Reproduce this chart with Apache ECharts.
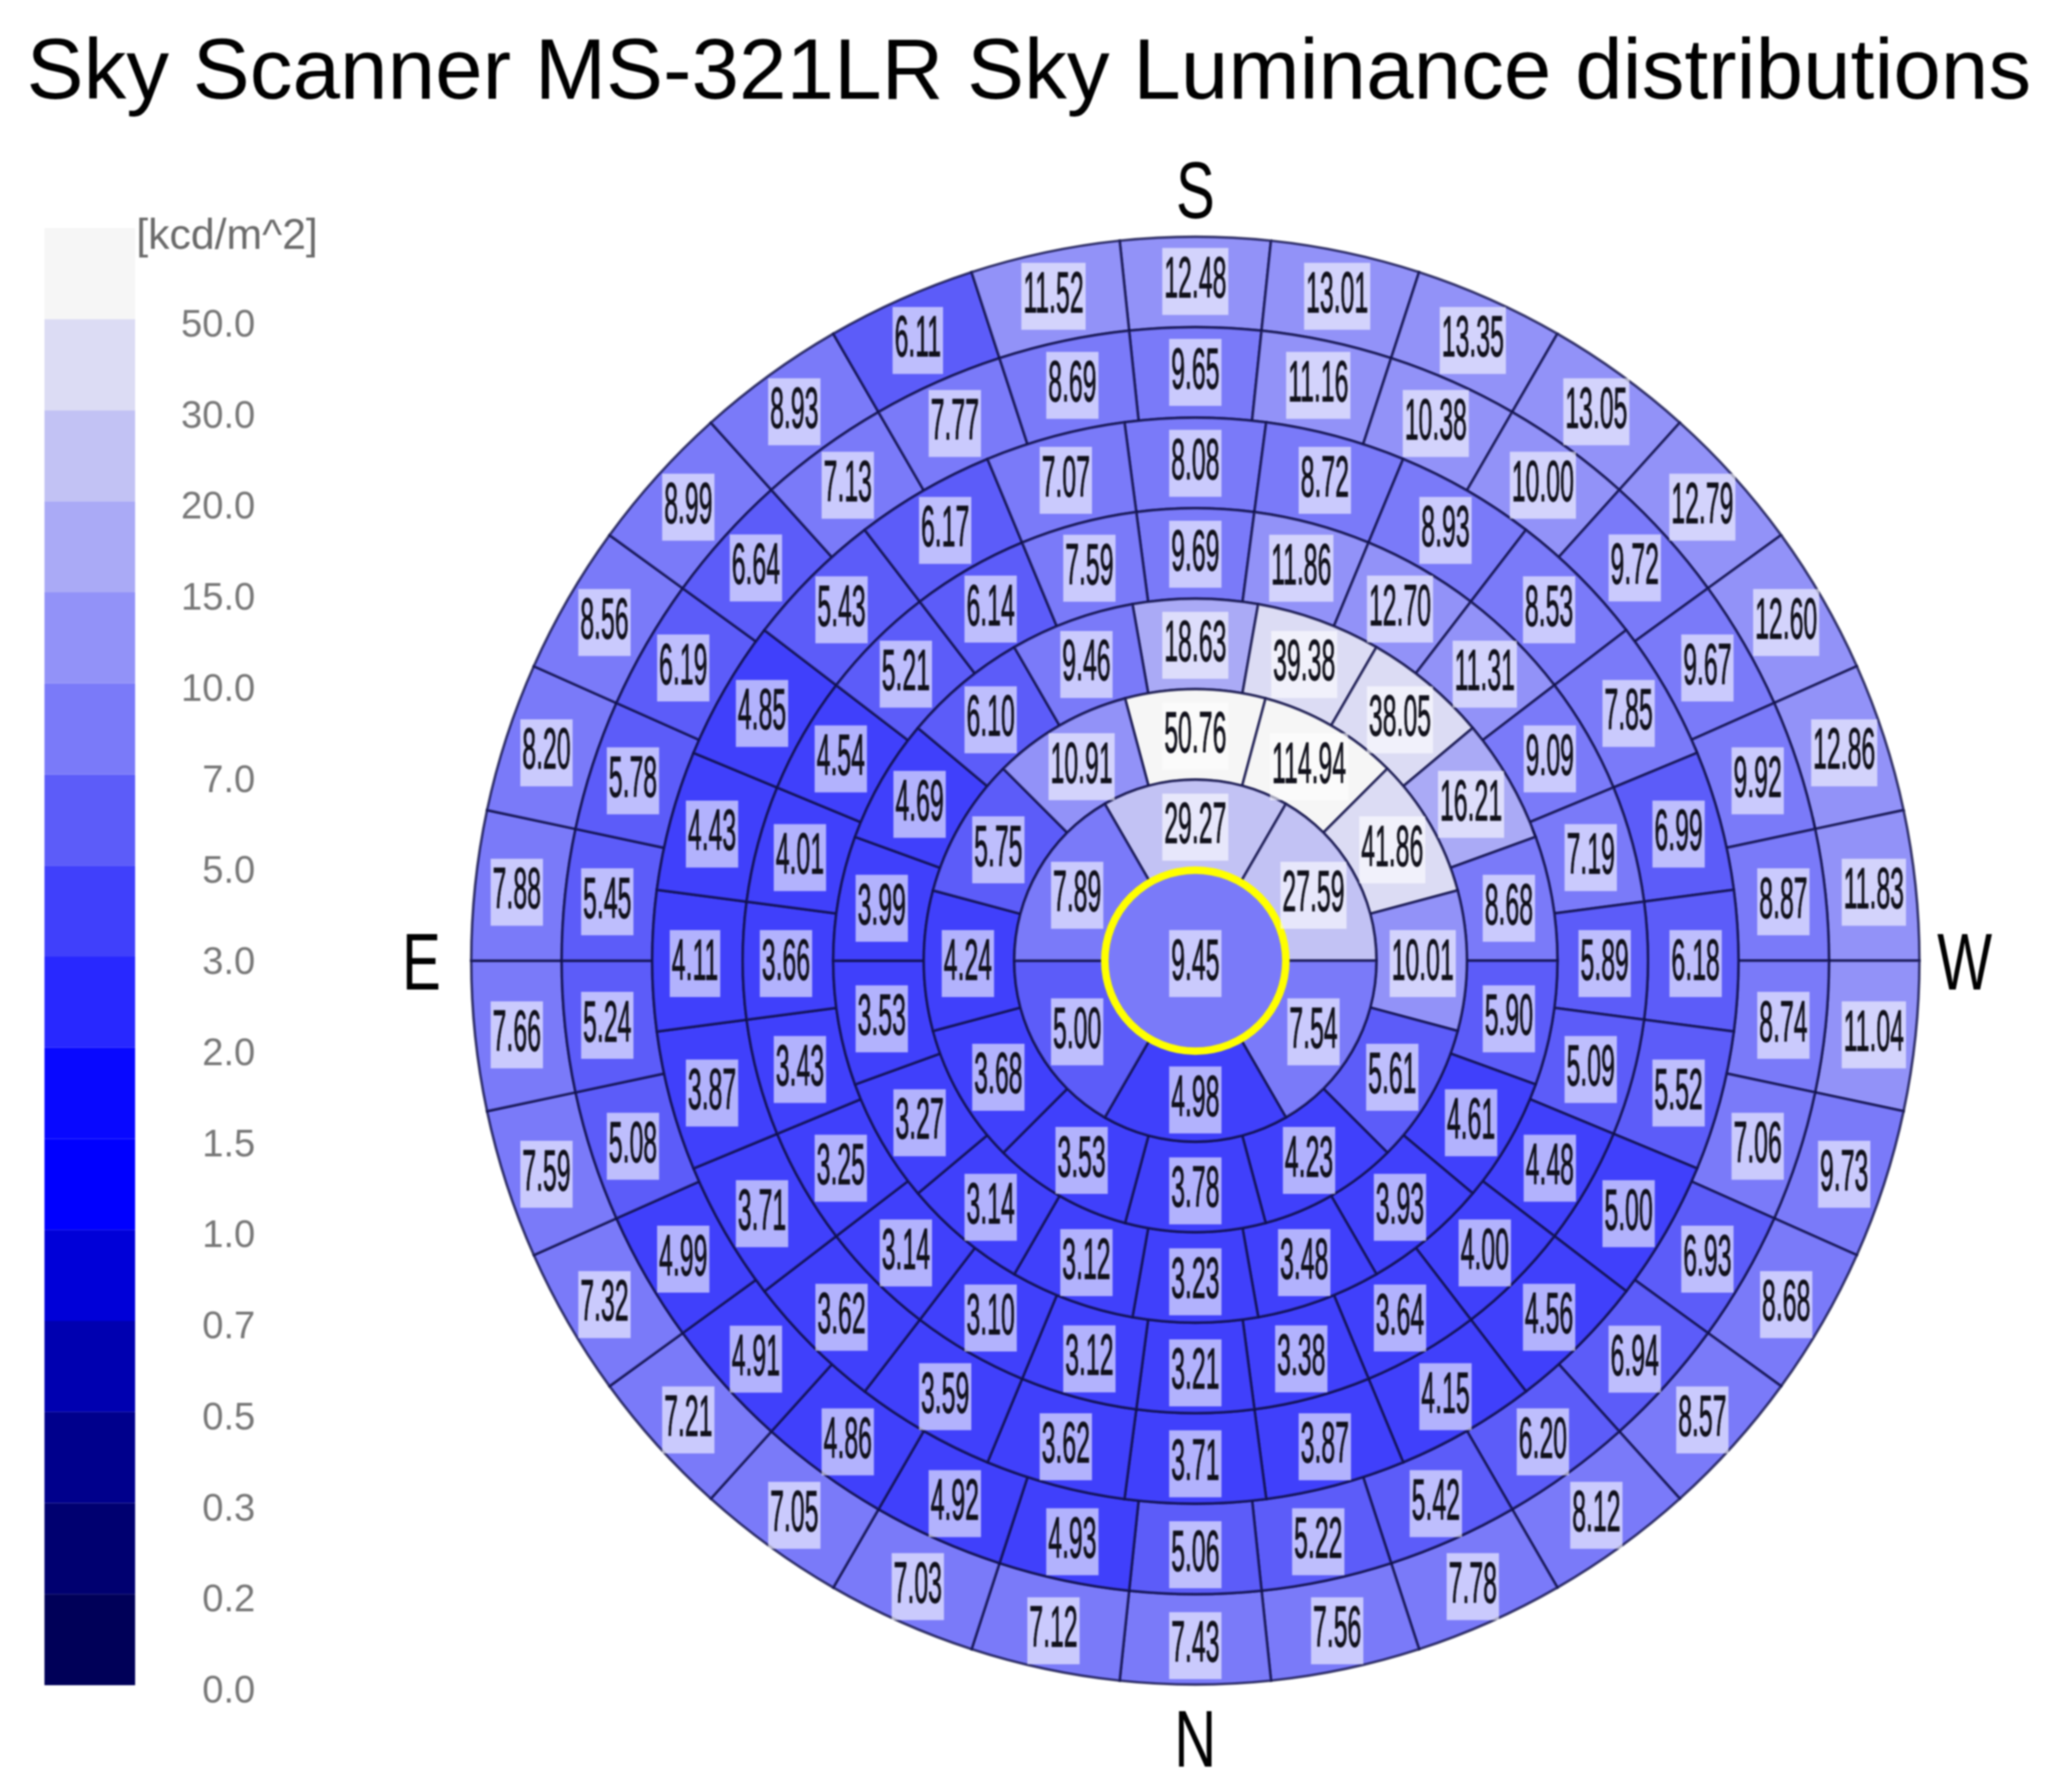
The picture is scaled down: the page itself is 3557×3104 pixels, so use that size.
<!DOCTYPE html>
<html><head><meta charset="utf-8">
<style>html,body{margin:0;padding:0;background:#fff}#c{width:3557px;height:3104px;filter:blur(1.6px)}</style>
<script src="https://cdn.jsdelivr.net/npm/echarts@6/dist/echarts.min.js"></script>
</head><body><div id="c"></div>
<script>
const chartTitle = 'Sky Scanner MS-321LR Sky Luminance distributions';
const unitLabel = '[kcd/m^2]';
const legendTicks = ['0.0','0.2','0.3','0.5','0.7','1.0','1.5','2.0','3.0','5.0','7.0','10.0','15.0','20.0','30.0','50.0',''];
const bandLimits = [0,0.2,0.3,0.5,0.7,1,1.5,2,3,5,7,10,15,20,30,50];
const bandColors = ['#000058','#000070','#00008c','#0000b0','#0000d8','#0000ff','#0808ff','#2828ff','#4040fb','#5c5cf9','#7a7af9','#9292f8','#aaaaf6','#c2c2f4','#dcdcf4','#f6f6f6'];
const compassLetters = ['S','W','N','E'];
const compassAngles = [0,90,180,270];
const compassRadii = [8.52,8.50,8.59,8.55];
// each ring lists its cells clockwise from the top (S)
const ring0 = [9.45];
const ring1 = [29.27,27.59,7.54,4.98,5.00,7.89];
const ring2 = [50.76,114.94,41.86,10.01,5.61,4.23,3.78,3.53,3.68,4.24,5.75,10.91];
const ring3 = [18.63,39.38,38.05,16.21,8.68,5.90,4.61,3.93,3.48,3.23,3.12,3.14,3.27,3.53,3.99,4.69,6.10,9.46];
const ring4 = [9.69,11.86,12.70,11.31,9.09,7.19,5.89,5.09,4.48,4.00,3.64,3.38,3.21,3.12,3.10,3.14,3.25,3.43,3.66,4.01,4.54,5.21,6.14,7.59];
const ring5 = [8.08,8.72,8.93,8.53,7.85,6.99,6.18,5.52,4.996,4.56,4.15,3.87,3.71,3.62,3.59,3.62,3.71,3.87,4.11,4.43,4.85,5.43,6.17,7.07];
const ring6 = [9.65,11.16,10.38,10.00,9.72,9.67,9.92,8.87,8.74,7.06,6.93,6.94,6.20,5.42,5.22,5.06,4.93,4.92,4.86,4.91,4.99,5.08,5.24,5.45,5.78,6.19,6.64,7.13,7.77,8.69];
const ring7 = [12.48,13.01,13.35,13.05,12.79,12.60,12.86,11.83,11.04,9.73,8.68,8.57,8.12,7.78,7.56,7.43,7.12,7.03,7.05,7.21,7.32,7.59,7.66,7.88,8.20,8.56,8.99,8.93,6.11,11.52];
const rings = [ring7,ring6,ring5,ring4,ring3,ring2,ring1,ring0];

function bandColor(v){let i=0;for(let k=0;k<bandLimits.length;k++){if(v>=bandLimits[k])i=k;}return bandColors[i];}

const cells = [];
rings.forEach((vals,idx)=>{
  const ringNo = rings.length-1-idx;
  vals.forEach((v,j)=>{ cells.push([ringNo, j*360/vals.length, v, vals.length]); });
});

function renderCell(params, api){
  const ring = api.value(0), ang = api.value(1), v = api.value(2), n = api.value(3);
  const c = api.coord([0,0]);
  const top = api.coord([1,0]);
  const unit = Math.hypot(top[0]-c[0], top[1]-c[1]);
  const half = 180/n;
  const children = [];
  const fill = bandColor(v);
  const midR = ring===0 ? 0 : (ring+0.5)*1.005;
  const m = api.coord([midR, ang]);
  const s = (ang-half-90)*Math.PI/180, e=(ang+half-90)*Math.PI/180;
  children.push({type:'sector',shape:{cx:c[0],cy:c[1],r0:ring*unit,r:(ring+1)*unit,startAngle:s,endAngle:e,clockwise:true},
    style:{fill:fill,stroke:ring===0?'#ffff00':'rgba(14,14,70,0.78)',lineWidth:ring===0?13:4.5}});
  children.push({type:'text',x:m[0],y:m[1]+5,scaleX:0.43,scaleY:1,z2:10,style:{
    text:v.toFixed(2),x:0,y:0,align:'center',verticalAlign:'middle',
    font:'100px "Liberation Sans"',lineHeight:100,fill:'#10101a',stroke:'#10101a',lineWidth:1.5,
    backgroundColor:'rgba(255,255,255,0.6)',padding:[14,8,2,8]}});
  return {type:'group',children};
}

function renderCompass(params, api){
  const p = api.coord([api.value(0), api.value(1)]);
  return {type:'text',x:p[0],y:p[1]+11,scaleX:0.72,style:{text:compassLetters[api.value(2)],x:0,y:0,align:'center',verticalAlign:'middle',
    font:'140px "Liberation Sans"',fill:'#000'}};
}

function renderSwatch(params, api){
  const i = api.value(0);
  const a = api.coord([0,i]), b = api.coord([1,i+1]);
  return {type:'rect',shape:{x:a[0],y:b[1],width:b[0]-a[0],height:a[1]-b[1]},style:{fill:bandColors[i]}};
}

const chart = echarts.init(document.getElementById('c'),null,{renderer:'canvas'});
chart.setOption({
  animation:false,
  backgroundColor:'#ffffff',
  title:{text:chartTitle,left:46,top:54,padding:0,textStyle:{fontFamily:'Liberation Sans',fontWeight:'normal',fontSize:148,color:'#000',lineHeight:152}},
  polar:{center:[2070,1664],radius:1254},
  radiusAxis:{type:'value',min:0,max:8,interval:1,axisLine:{show:false},axisTick:{show:false},axisLabel:{show:false},splitLine:{show:false}},
  angleAxis:{type:'value',min:0,max:360,interval:90,startAngle:90,clockwise:true,
    axisLine:{show:false},axisTick:{show:false},splitLine:{show:false},axisLabel:{show:false}},
  grid:{left:77,top:395,width:157,height:2524,containLabel:false},
  xAxis:{type:'value',min:0,max:1,show:false},
  yAxis:{type:'value',min:0,max:16,interval:1,position:'right',
    axisLine:{show:false},axisTick:{show:false},splitLine:{show:false},
    axisLabel:{show:true,align:'right',verticalAlign:'top',lineHeight:24,margin:208,showMinLabel:true,showMaxLabel:true,fontFamily:'Liberation Sans',fontSize:66,color:'#777777',formatter:(v)=>legendTicks[v]}},
  graphic:[{type:'text',left:236,top:374,style:{text:unitLabel,font:'74px "Liberation Sans"',fill:'#6a6a6a'}}],
  series:[
    {type:'custom',coordinateSystem:'cartesian2d',xAxisIndex:0,yAxisIndex:0,silent:true,renderItem:renderSwatch,data:bandColors.map((_,i)=>[i]),encode:{y:0}},
    {type:'custom',coordinateSystem:'polar',polarIndex:0,silent:true,renderItem:renderCell,data:cells,clip:false},
    {type:'custom',coordinateSystem:'polar',polarIndex:0,silent:true,renderItem:renderCompass,clip:false,
      data:compassLetters.map((_,i)=>[compassRadii[i],compassAngles[i],i])}
  ]
});
</script></body></html>
